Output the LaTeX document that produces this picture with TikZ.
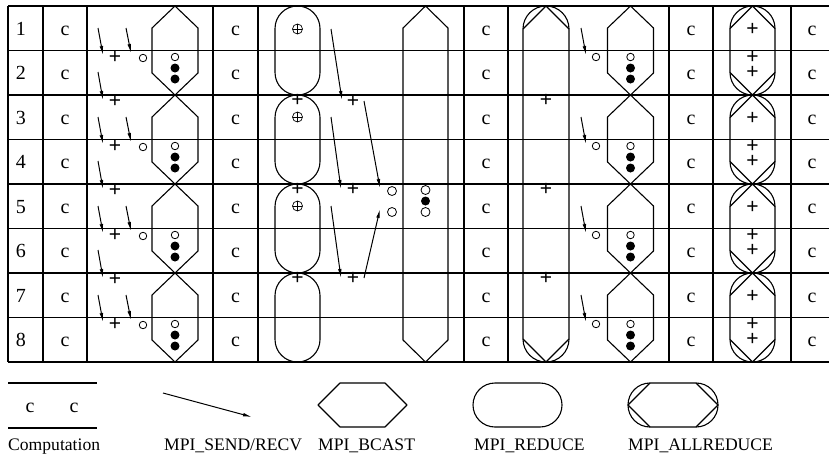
\documentclass[tikz,border=0pt]{standalone}
\usepackage{fontspec}
\setmainfont{Liberation Serif}
\newfontfamily\symfont{Liberation Sans}
\usepackage{tikz}
\usetikzlibrary{arrows.meta,calc}

\begin{document}
\begin{tikzpicture}[x=1pt,y=-1pt,line join=round,
  font=\fontsize{17.6}{20}\selectfont,
  rule/.style={line width=1.5pt},
  coll/.style={line width=1.1pt},
  msg/.style={line width=1pt,-{Latex[length=9pt,width=3.6pt]}},
  sym/.style={inner sep=0pt,font=\symfont\fontsize{21}{15}\selectfont},
  txt/.style={anchor=base,inner sep=0pt},
  cell/.style={txt,font=\fontsize{20}{20}\selectfont},
  opn/.style={circle,draw,line width=0.8pt,inner sep=0pt,minimum size=7.5pt},
  opnbig/.style={opn,minimum size=9pt},
  dot/.style={circle,fill,inner sep=0pt,minimum size=9pt},
  oplus/.style={circle,draw,line width=0.7pt,minimum size=10pt,inner sep=0pt,
    path picture={\draw[line width=0.7pt] (path picture bounding box.north) -- (path picture bounding box.south)
      (path picture bounding box.west) -- (path picture bounding box.east);}}]
  \useasboundingbox (0,0) rectangle (829,456);

  % grid
  \foreach \r in {0,...,8} \draw[rule] (8,6+44.5*\r) -- (829,6+44.5*\r);
  \foreach \x in {8,43,87,213,258,464,508,669,713,791} \draw[rule] (\x,6) -- (\x,362);
  \foreach \r in {1,...,8}{
    \node[cell] (num\r) at (21,44.5*\r-9.25) {\r};
    \foreach \x [count=\j] in {65,235.5,486,691,812} \node[cell] (c\r-\j) at (\x,44.5*\r-9.25) {c};
  }

  % paired collectives, one pass per two processes
  \foreach \k in {0,...,3}{
    \pgfmathsetmacro\t{6+89*\k}
    \pgfmathsetmacro\b{95+89*\k}
    \foreach \cx in {175,630.5}{
      \draw[coll] (\cx,\t) -- ++(23,22) -- (\cx+23,\b-22) -- (\cx,\b) -- (\cx-23,\b-22) -- (\cx-23,\t+22) -- cycle;
      \node[opn] (so\cx-\k) at (\cx,57+89*\k) {};
      \node[dot] (sa\cx-\k) at (\cx,68+89*\k) {};
      \node[dot] (sb\cx-\k) at (\cx,79+89*\k) {};
    }
    \draw[coll,rounded corners=22.5pt] (275,\t) rectangle (320,\b);
    \draw[coll,rounded corners=22.5pt] (730,\t) rectangle (775,\b);
    \draw[coll] (730,\t+22.5) -- (752.5,\t) -- (775,\t+22.5) (730,\b-22.5) -- (752.5,\b) -- (775,\b-22.5);
    \node[sym] (ua\k) at (752.5,29+89*\k) {+};
    \node[sym,align=center] (ub\k) at (752.5,64.5+89*\k) {+\\+};
    % send/recv before the bcast
    \node[sym] (pa\k) at (115,57+89*\k) {+};
    \node[opn] (oa\k) at (143,58+89*\k) {};
    \draw[msg] ($(pa\k)+(-17,-29)$) -- ($(pa\k)+(-12,-2)$);
    \draw[msg] ($(oa\k)+(-17,-30)$) -- ($(oa\k)+(-12,-5)$);
    \ifnum\k<3
      \node[sym] (pb\k) at (115,101+89*\k) {+};
      \draw[msg] ($(pb\k)+(-17,-29)$) -- ($(pb\k)+(-12,-1)$);
    \fi
    \node[opn] (oc\k) at (596,57+89*\k) {};
    \draw[msg] ($(oc\k)+(-15,-29)$) -- ($(oc\k)+(-10,-2)$);
  }

  % long bcast and allreduce
  \draw[coll] (425.5,6) -- (448,28) -- (448,340) -- (425.5,362) -- (403,340) -- (403,28) -- cycle;
  \draw[coll,rounded corners=23pt] (523,6) rectangle (569,362);
  \draw[coll] (523,29) -- (546,6) -- (569,29) (523,339) -- (546,362) -- (569,339);
  \foreach \y [count=\i] in {100,189,278}{
    \node[sym] (ap\i) at (546,\y) {+};
    \node[sym] (rp\i) at (297.5,\y) {+};
  }

  % reduction tree
  \node[oplus] (ox1) at (297.5,29) {};
  \node[oplus] (ox2) at (297.5,117) {};
  \node[oplus] (ox3) at (297.5,206) {};
  \node[sym] (q1) at (353,101) {+};
  \node[sym] (q2) at (353,189) {+};
  \node[sym] (q3) at (353,278) {+};
  \node[opnbig] (r1) at (392,191) {};
  \node[opnbig] (r2) at (392,212) {};
  \node[opnbig] (t1) at (425.5,190) {};
  \node[dot] (t2) at (425.5,201) {};
  \node[opnbig] (t3) at (425.5,212) {};
  \draw[msg] ($(ox1)+(33.5,0)$) -- ($(q1)+(-11,-1)$);
  \draw[msg] ($(ox2)+(33.5,0)$) -- ($(q2)+(-12,0)$);
  \draw[msg] ($(q1)+(11,0)$) -- ($(r1)+(-12,-3)$);
  \draw[msg] ($(ox3)+(33.5,0)$) -- ($(q3)+(-12,0)$);
  \draw[msg] ($(q3)+(11,0)$) -- ($(r2)+(-12,-3)$);

  % legend
  \draw[rule] (8,383) -- (97,383) (8,428) -- (97,428);
  \node[cell] (lc1) at (30,412) {c};
  \node[cell] (lc2) at (74,412) {c};
  \coordinate (ls) at (163,393);
  \coordinate (le) at (252,417);
  \draw[msg] (ls) -- (le);
  \draw[coll] (318,405) -- (340,383) -- (385,383) -- (407,405) -- (385,427) -- (340,427) -- cycle;
  \draw[coll,rounded corners=22pt] (473,383) rectangle (562,427);
  \draw[coll,rounded corners=22pt] (628,383) rectangle (718,427);
  \draw[coll] (650,383) -- (628,405) -- (650,427) (696,383) -- (718,405) -- (696,427);
  \node[txt,anchor=base west] (l1) at (8,450) {Computation};
  \node[txt,anchor=base west] (l2) at (164,450) {MPI\_SEND/RECV};
  \node[txt,anchor=base west] (l3) at (318,450) {MPI\_BCAST};
  \node[txt,anchor=base west] (l4) at (474,450) {MPI\_REDUCE};
  \node[txt,anchor=base west] (l5) at (628,450) {MPI\_ALLREDUCE};
\end{tikzpicture}
\end{document}
